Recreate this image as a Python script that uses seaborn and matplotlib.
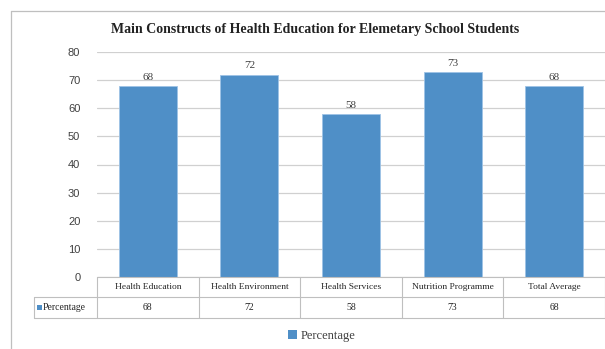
import matplotlib
matplotlib.use("Agg")
import matplotlib.pyplot as plt
import seaborn as sns
import pandas as pd
from matplotlib.patches import Rectangle
from matplotlib.lines import Line2D

categories = ["Health Education", "Health Environment", "Health Services",
              "Nutrition Programme", "Total Average"]
values = [68, 72, 58, 73, 68]
series_name = "Percentage"
title = "Main Constructs of Health Education for Elemetary School Students"
yticks = [0, 10, 20, 30, 40, 50, 60, 70, 80]

sns.set_theme(style="white")
plt.rcParams["font.family"] = ["Liberation Serif", "DejaVu Serif"]

W, H = 605, 349
fig = plt.figure(figsize=(W / 100, H / 100), dpi=100)
fig.patch.set_facecolor("white")

# axes placement in pixels
x0, x1, ytop, ybot = 97, 605, 52, 277
ax = fig.add_axes([x0 / W, 1 - ybot / H, (x1 - x0) / W, (ybot - ytop) / H])

color = "#4F8FC7"
df = pd.DataFrame({"cat": categories, "val": values})
sns.barplot(data=df, x="cat", y="val", color=color, width=0.57,
            saturation=1, ax=ax, edgecolor="#9EC3E6", linewidth=0.6, zorder=3)

ax.set_ylim(0, 80)
ax.set_xlim(-0.5, len(categories) - 0.5)
ax.set_yticks(yticks)
ax.set_yticklabels([str(t) for t in yticks], fontsize=8, color="#404040",
                   family=["Liberation Sans", "DejaVu Sans"])
ax.tick_params(axis="y", length=0, pad=12)
ax.set_xticks([])
ax.set_xlabel("")
ax.set_ylabel("")
for s in ax.spines.values():
    s.set_visible(False)
ax.grid(axis="y", color="#D0D0D0", linewidth=0.9, zorder=0)
ax.set_axisbelow(True)

for i, v in enumerate(values):
    ax.annotate(str(v), (i, v), xytext=(0, 3), textcoords="offset points",
                ha="center", va="bottom", fontsize=8, color="#404040")

# title
fig.text(315 / W, 1 - 30 / H, title, ha="center", va="center",
         fontsize=10, fontweight="bold", color="#222222")

# outer frame
fig.add_artist(Line2D([11 / W, 11 / W], [1 - 11 / H, 0], transform=fig.transFigure,
                      color="#BFBFBF", linewidth=0.9))
fig.add_artist(Line2D([11 / W, 1], [1 - 11 / H, 1 - 11 / H], transform=fig.transFigure,
                      color="#BFBFBF", linewidth=0.9))

# data table below the axis
tc = "#BFBFBF"
tf = fig.transFigure
r1t, r1b, r2b = 277, 297, 318
lab_left = 34
n = len(categories)
colw = (x1 - x0) / n

def fx(px):
    return px / W

def fy(py):
    return 1 - py / H

def hline(xa, xb, y):
    fig.add_artist(Line2D([fx(xa), fx(xb)], [fy(y), fy(y)], transform=tf, color=tc, linewidth=0.8))

def vline(x, ya, yb):
    fig.add_artist(Line2D([fx(x), fx(x)], [fy(ya), fy(yb)], transform=tf, color=tc, linewidth=0.8))

hline(x0, x1, r1t)
hline(lab_left, x1, r1b)
hline(lab_left, x1, r2b)
vline(lab_left, r1b, r2b)
for k in range(n + 1):
    vline(x0 + k * colw, r1t, r2b)

for i, (c, v) in enumerate(zip(categories, values)):
    cx = x0 + (i + 0.5) * colw
    fig.text(fx(cx), fy((r1t + r1b) / 2), c, ha="center", va="center",
             fontsize=6.8, color="#262626")
    fig.text(fx(cx), fy((r1b + r2b) / 2), str(v), ha="center", va="center",
             fontsize=7, color="#262626")

# row label with key
fig.add_artist(Rectangle((fx(37), fy(310)), 5 / W, 5 / H, transform=tf,
                         facecolor=color, edgecolor="none"))
fig.text(fx(43), fy((r1b + r2b) / 2), series_name, ha="left", va="center",
         fontsize=7, color="#262626")

# legend
handle = Rectangle((0, 0), 1, 1, facecolor=color, edgecolor="none")
fig.legend([handle], [series_name], loc="center", bbox_to_anchor=(fx(322), fy(336)),
           frameon=False, fontsize=9, handlelength=0.7, handleheight=0.7,
           handletextpad=0.3, labelcolor="#404040")

fig.savefig("out.png", dpi=100)
